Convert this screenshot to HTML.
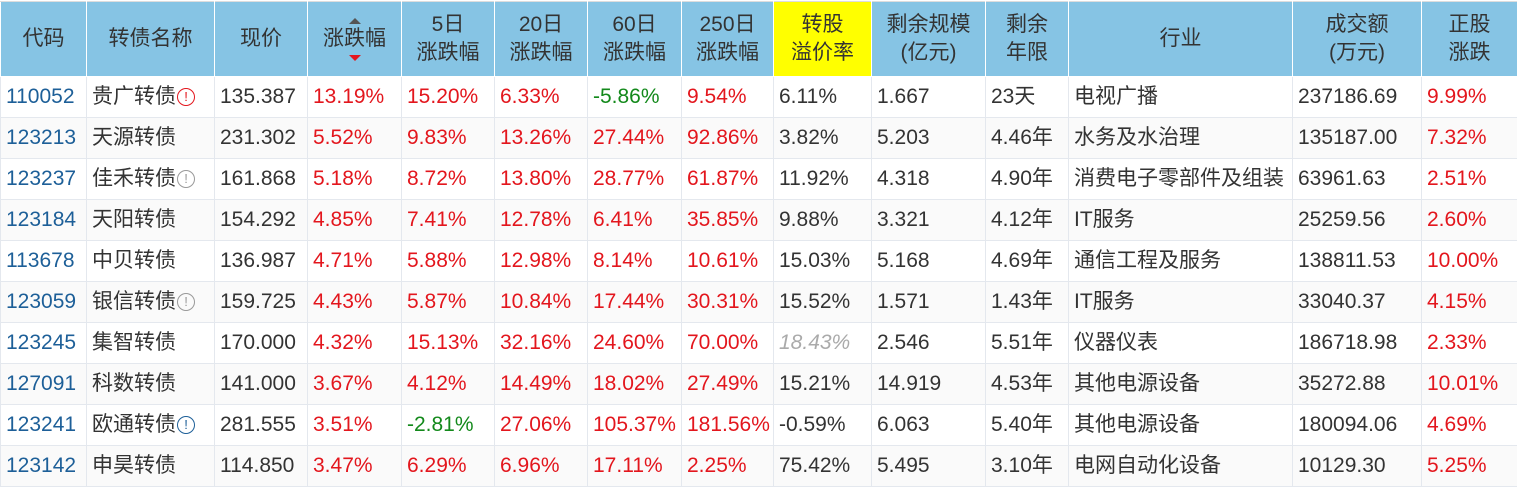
<!DOCTYPE html>
<html><head><meta charset="utf-8"><style>
body{margin:0;width:1517px;height:487px;overflow:hidden;background:#fff;font-family:"Liberation Sans","Noto Sans CJK SC",sans-serif;}
table{border-collapse:collapse;table-layout:fixed;width:1517px;position:absolute;left:0;top:1px;}
th{background:#86c4e4;color:#333;font-weight:normal;font-size:21px;line-height:28px;height:74px;border:1px solid #fff;border-top:1px solid #ddd;padding:0;text-align:center;vertical-align:middle;}
th.y{background:#ffff00;}
td{height:40px;line-height:40px;border:1px solid #e4e8ee;font-size:21px;color:#333;padding:0 0 0 5px;white-space:nowrap;overflow:hidden;vertical-align:middle;}
tr:nth-child(odd) td{background:#fafafa;}
.c{color:#1d5f98;}
.r{color:#e3161d;}
.g{color:#13891b;}
.i{color:#aaa;font-style:italic;}
.ic{display:inline-block;width:16px;height:16px;border:1.5px solid #999;border-radius:50%;font-size:13px;line-height:16px;text-align:center;color:#999;vertical-align:middle;margin-left:1px;}
.ic.red{border-color:#e3161d;color:#e3161d;}
.ic.blue{border-color:#1d5f98;color:#1d5f98;}
.up{display:block;width:0;height:0;margin:0 auto 1px;border-left:6px solid transparent;border-right:6px solid transparent;border-bottom:6px solid #555;}
.dn{display:block;width:0;height:0;margin:2px auto 0;border-left:6px solid transparent;border-right:6px solid transparent;border-top:6px solid #e3161d;}
</style></head><body>
<table>
<colgroup><col style="width:86px"><col style="width:128px"><col style="width:93px"><col style="width:94px"><col style="width:93px"><col style="width:93px"><col style="width:94px"><col style="width:92px"><col style="width:98px"><col style="width:114px"><col style="width:83px"><col style="width:224px"><col style="width:129px"><col style="width:96px"></colgroup>
<tr><th>代码</th><th>转债名称</th><th>现价</th><th><span class="up"></span>涨跌幅<span class="dn"></span></th><th>5日<br>涨跌幅</th><th>20日<br>涨跌幅</th><th>60日<br>涨跌幅</th><th>250日<br>涨跌幅</th><th class="y">转股<br>溢价率</th><th>剩余规模<br>(亿元)</th><th>剩余<br>年限</th><th>行业</th><th>成交额<br>(万元)</th><th>正股<br>涨跌</th></tr>
<tr><td class="c">110052</td><td>贵广转债<span class="ic red">!</span></td><td>135.387</td><td class="r">13.19%</td><td class="r">15.20%</td><td class="r">6.33%</td><td class="g">-5.86%</td><td class="r">9.54%</td><td>6.11%</td><td>1.667</td><td>23天</td><td>电视广播</td><td>237186.69</td><td class="r">9.99%</td></tr>
<tr><td class="c">123213</td><td>天源转债</td><td>231.302</td><td class="r">5.52%</td><td class="r">9.83%</td><td class="r">13.26%</td><td class="r">27.44%</td><td class="r">92.86%</td><td>3.82%</td><td>5.203</td><td>4.46年</td><td>水务及水治理</td><td>135187.00</td><td class="r">7.32%</td></tr>
<tr><td class="c">123237</td><td>佳禾转债<span class="ic">!</span></td><td>161.868</td><td class="r">5.18%</td><td class="r">8.72%</td><td class="r">13.80%</td><td class="r">28.77%</td><td class="r">61.87%</td><td>11.92%</td><td>4.318</td><td>4.90年</td><td>消费电子零部件及组装</td><td>63961.63</td><td class="r">2.51%</td></tr>
<tr><td class="c">123184</td><td>天阳转债</td><td>154.292</td><td class="r">4.85%</td><td class="r">7.41%</td><td class="r">12.78%</td><td class="r">6.41%</td><td class="r">35.85%</td><td>9.88%</td><td>3.321</td><td>4.12年</td><td>IT服务</td><td>25259.56</td><td class="r">2.60%</td></tr>
<tr><td class="c">113678</td><td>中贝转债</td><td>136.987</td><td class="r">4.71%</td><td class="r">5.88%</td><td class="r">12.98%</td><td class="r">8.14%</td><td class="r">10.61%</td><td>15.03%</td><td>5.168</td><td>4.69年</td><td>通信工程及服务</td><td>138811.53</td><td class="r">10.00%</td></tr>
<tr><td class="c">123059</td><td>银信转债<span class="ic">!</span></td><td>159.725</td><td class="r">4.43%</td><td class="r">5.87%</td><td class="r">10.84%</td><td class="r">17.44%</td><td class="r">30.31%</td><td>15.52%</td><td>1.571</td><td>1.43年</td><td>IT服务</td><td>33040.37</td><td class="r">4.15%</td></tr>
<tr><td class="c">123245</td><td>集智转债</td><td>170.000</td><td class="r">4.32%</td><td class="r">15.13%</td><td class="r">32.16%</td><td class="r">24.60%</td><td class="r">70.00%</td><td class="i">18.43%</td><td>2.546</td><td>5.51年</td><td>仪器仪表</td><td>186718.98</td><td class="r">2.33%</td></tr>
<tr><td class="c">127091</td><td>科数转债</td><td>141.000</td><td class="r">3.67%</td><td class="r">4.12%</td><td class="r">14.49%</td><td class="r">18.02%</td><td class="r">27.49%</td><td>15.21%</td><td>14.919</td><td>4.53年</td><td>其他电源设备</td><td>35272.88</td><td class="r">10.01%</td></tr>
<tr><td class="c">123241</td><td>欧通转债<span class="ic blue">!</span></td><td>281.555</td><td class="r">3.51%</td><td class="g">-2.81%</td><td class="r">27.06%</td><td class="r">105.37%</td><td class="r">181.56%</td><td>-0.59%</td><td>6.063</td><td>5.40年</td><td>其他电源设备</td><td>180094.06</td><td class="r">4.69%</td></tr>
<tr><td class="c">123142</td><td>申昊转债</td><td>114.850</td><td class="r">3.47%</td><td class="r">6.29%</td><td class="r">6.96%</td><td class="r">17.11%</td><td class="r">2.25%</td><td>75.42%</td><td>5.495</td><td>3.10年</td><td>电网自动化设备</td><td>10129.30</td><td class="r">5.25%</td></tr>
</table>
</body></html>
